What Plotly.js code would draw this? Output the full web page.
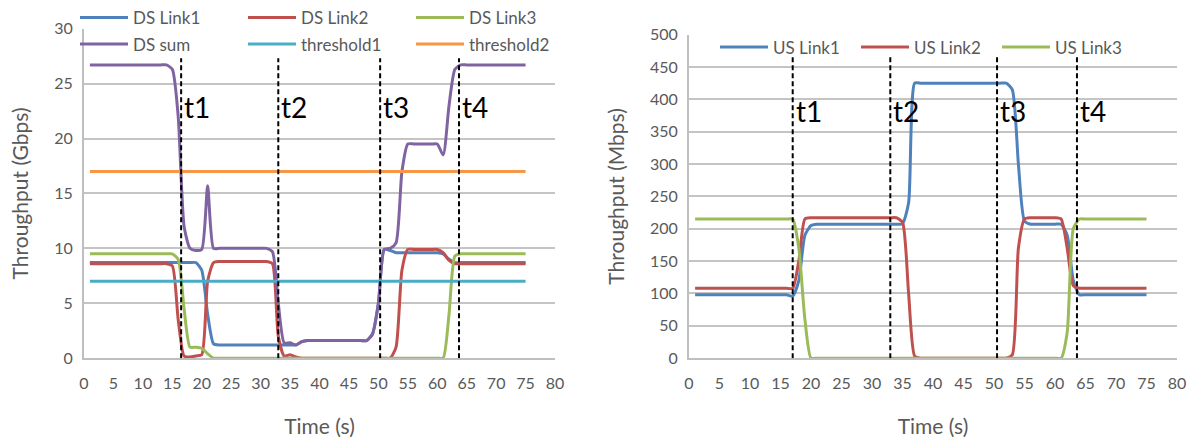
<!DOCTYPE html>
<html><head><meta charset="utf-8">
<script src="https://cdn.plot.ly/plotly-3.0.1.min.js"></script>
<style>html,body{margin:0;padding:0;background:#fff}</style>
</head><body>
<div id="chart" style="width:1194px;height:442px"></div>
<script>
// ---------------- data ----------------
const time = [1,2,3,4,5,6,7,8,9,10,11,12,13,14,15,16,17,18,19,20,21,22,23,24,25,26,27,28,29,30,31,32,33,34,35,36,37,38,39,40,41,42,43,44,45,46,47,48,49,50,51,52,53,54,55,56,57,58,59,60,61,62,63,64,65,66,67,68,69,70,71,72,73,74,75];

// Downstream (Gbps)
const dsLink1 = [8.7,8.7,8.7,8.7,8.7,8.7,8.7,8.7,8.7,8.7,8.7,8.7,8.7,8.7,8.7,8.7,8.7,8.7,8.7,8.0,4.0,1.3,1.2,1.2,1.2,1.2,1.2,1.2,1.2,1.2,1.2,1.2,1.2,1.2,1.2,1.2,1.5,1.6,1.6,1.6,1.6,1.6,1.6,1.6,1.6,1.6,1.6,1.6,2.2,5.0,9.9,9.8,9.6,9.6,9.6,9.6,9.6,9.6,9.6,9.6,9.5,9.0,8.7,8.7,8.7,8.7,8.7,8.7,8.7,8.7,8.7,8.7,8.7,8.7,8.7];
const dsLink2 = [8.6,8.6,8.6,8.6,8.6,8.6,8.6,8.6,8.6,8.6,8.6,8.6,8.6,8.6,8.4,3.5,0.2,0.1,0.2,0.3,7.0,8.7,8.8,8.8,8.8,8.8,8.8,8.8,8.8,8.8,8.8,8.6,2.0,0.2,0.3,0.1,0,0,0,0,0,0,0,0,0,0,0,0,0,0,0,0,1.0,8.0,9.9,9.9,9.9,9.9,9.9,9.9,9.6,8.9,8.6,8.6,8.6,8.6,8.6,8.6,8.6,8.6,8.6,8.6,8.6,8.6,8.6];
const dsLink3 = [9.5,9.5,9.5,9.5,9.5,9.5,9.5,9.5,9.5,9.5,9.5,9.5,9.5,9.5,9.5,9.0,4.5,1.0,1.0,0.9,0.4,0,0,0,0,0,0,0,0,0,0,0,0,0,0,0,0,0,0,0,0,0,0,0,0,0,0,0,0,0,0,0,0,0,0,0,0,0,0,0,0,4.0,9.3,9.5,9.5,9.5,9.5,9.5,9.5,9.5,9.5,9.5,9.5,9.5,9.5];
const dsSum = [26.7,26.7,26.7,26.7,26.7,26.7,26.7,26.7,26.7,26.7,26.7,26.7,26.7,26.7,26.3,22.0,12.0,10.0,9.8,9.9,15.7,10.0,10.0,10.0,10.0,10.0,10.0,10.0,10.0,10.0,10.0,9.7,5.0,1.4,1.4,1.2,1.5,1.6,1.6,1.6,1.6,1.6,1.6,1.6,1.6,1.6,1.6,1.6,2.2,5.0,9.9,10.0,10.5,17.0,19.5,19.5,19.5,19.5,19.5,19.5,18.5,23.0,26.3,26.7,26.7,26.7,26.7,26.7,26.7,26.7,26.7,26.7,26.7,26.7,26.7];
const thresholdTime = [1, 75];
const threshold1 = [7, 7];
const threshold2 = [17, 17];

// Upstream (Mbps)
const usLink1 = [98,98,98,98,98,98,98,98,98,98,98,98,98,98,98,98,96,120,190,205,207,207,207,207,207,207,207,207,207,207,207,207,207,207,208,240,425,425,425,425,425,425,425,425,425,425,425,425,425,425,425,425,415,300,212,207,207,207,207,207,207,190,120,98,98,98,98,98,98,98,98,98,98,98,98];
const usLink2 = [108,108,108,108,108,108,108,108,108,108,108,108,108,108,108,108,108,150,215,217,217,217,217,217,217,217,217,217,217,217,217,217,217,217,210,100,3,0,0,0,0,0,0,0,0,0,0,0,0,0,0,0,5,170,215,217,217,217,217,217,215,170,112,108,108,108,108,108,108,108,108,108,108,108,108];
const usLink3 = [215,215,215,215,215,215,215,215,215,215,215,215,215,215,215,215,215,170,60,0,0,0,0,0,0,0,0,0,0,0,0,0,0,0,0,0,0,0,0,0,0,0,0,0,0,0,0,0,0,0,0,0,0,0,0,0,0,0,0,0,0,40,200,215,215,215,215,215,215,215,215,215,215,215,215];

// event markers
const eventLabels = ['t1','t2','t3','t4'];
const dsEvents = [16.5, 33, 50.3, 63.7];
const usEvents = [17, 33, 50.5, 63.6];

// ---------------- styling ----------------
const C = {blue:'#4f81bd', red:'#c0504d', green:'#9bbb59', purple:'#8064a2', aqua:'#4bacc6', orange:'#f79646'};
const FONT = 'Lato, "Open Sans", "DejaVu Sans", sans-serif';
const GRAY = '#595959';

function tr(x, y, name, color, xa, ya, legend) {
  return {x: x, y: y, name: name, type: 'scatter', mode: 'lines',
    line: {color: color, width: 3, shape: 'spline', smoothing: 0.6},
    xaxis: xa, yaxis: ya, legend: legend};
}

const data = [
  tr(time, dsLink1, 'DS Link1', C.blue, 'x', 'y', 'legend'),
  tr(time, dsLink2, 'DS Link2', C.red, 'x', 'y', 'legend'),
  tr(time, dsLink3, 'DS Link3', C.green, 'x', 'y', 'legend'),
  tr(time, dsSum, 'DS sum', C.purple, 'x', 'y', 'legend2'),
  tr(thresholdTime, threshold1, 'threshold1', C.aqua, 'x', 'y', 'legend2'),
  tr(thresholdTime, threshold2, 'threshold2', C.orange, 'x', 'y', 'legend2'),
  tr(time, usLink1, 'US Link1', C.blue, 'x2', 'y2', 'legend3'),
  tr(time, usLink2, 'US Link2', C.red, 'x2', 'y2', 'legend3'),
  tr(time, usLink3, 'US Link3', C.green, 'x2', 'y2', 'legend3')
];

const W = 1194, H = 442;
function xAxis(d0, d1, anchor) {
  return {domain: [d0 / W, d1 / W], anchor: anchor, range: [0, 80], tick0: 0, dtick: 5,
    showgrid: false, zeroline: false, showline: true, linecolor: '#bfbfbf', linewidth: 2,
    ticks: '', ticklabelstandoff: 10, tickfont: {size: 16, color: GRAY, family: FONT},
    title: {text: 'Time (s)', font: {size: 21, color: GRAY, family: FONT}, standoff: 28}};
}
function yAxis(top, range, dtick, title, anchor) {
  return {domain: [(H - 357) / H, (H - top) / H], anchor: anchor, range: range, tick0: 0, dtick: dtick,
    showgrid: true, gridcolor: '#c4c4c4', gridwidth: 2, zeroline: false,
    showline: true, linecolor: '#bfbfbf', linewidth: 2,
    ticks: '', ticklabelstandoff: 6, tickfont: {size: 16, color: GRAY, family: FONT},
    title: {text: title, font: {size: 21, color: GRAY, family: FONT}, standoff: 20}};
}

const shapes = [];
const annotations = [];
dsEvents.forEach(function (t, i) {
  shapes.push({type: 'line', xref: 'x', yref: 'y', x0: t, x1: t, y0: 0, y1: 27.3,
    line: {color: '#000', width: 2, dash: '5px,3px'}});
  annotations.push({xref: 'x', yref: 'y', x: t, y: 22.9, text: eventLabels[i], showarrow: false,
    xanchor: 'left', yanchor: 'middle', xshift: 1, font: {size: 28, color: '#000', family: FONT}});
});
usEvents.forEach(function (t, i) {
  shapes.push({type: 'line', xref: 'x2', yref: 'y2', x0: t, x1: t, y0: 0, y1: 466,
    line: {color: '#000', width: 2, dash: '5px,3px'}});
  annotations.push({xref: 'x2', yref: 'y2', x: t, y: 382, text: eventLabels[i], showarrow: false,
    xanchor: 'left', yanchor: 'middle', xshift: 1, font: {size: 28, color: '#000', family: FONT}});
});

function leg(xpx, ypx, ew) {
  return {orientation: 'h', x: xpx / W, xanchor: 'left', y: 1 - ypx / H, yanchor: 'middle',
    itemwidth: 48, entrywidth: ew, entrywidthmode: 'pixels', bgcolor: 'rgba(0,0,0,0)', borderwidth: 0,
    traceorder: 'normal', font: {size: 17, color: GRAY, family: FONT}};
}

const layout = {
  width: W, height: H,
  margin: {l: 0, r: 0, t: 0, b: 0},
  paper_bgcolor: '#ffffff', plot_bgcolor: '#ffffff',
  font: {family: FONT, color: GRAY, size: 16},
  showlegend: true,
  xaxis: xAxis(84, 555, 'y'),
  yaxis: yAxis(23, [0, 30], 5, 'Throughput (Gbps)', 'x'),
  xaxis2: xAxis(689, 1177, 'y2'),
  yaxis2: yAxis(29, [0, 500], 50, 'Throughput (Mbps)', 'x2'),
  legend: leg(75, 12, 105),
  legend2: leg(75, 39, 105),
  legend3: leg(715, 42, 78),
  shapes: shapes,
  annotations: annotations
};

Plotly.newPlot('chart', data, layout, {staticPlot: true, displayModeBar: false});
</script>
</body></html>
